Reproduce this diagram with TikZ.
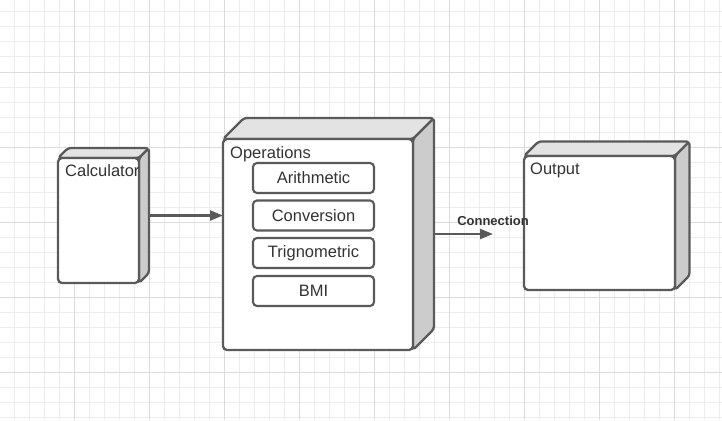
\documentclass[tikz,border=0pt]{standalone}
\usepackage{fontspec}
\setmainfont{Liberation Sans}
\usetikzlibrary{arrows.meta,calc}
\definecolor{edge}{HTML}{5A5A5A}
\definecolor{txt}{HTML}{333333}
\definecolor{topf}{HTML}{E3E3E3}
\definecolor{sidef}{HTML}{CCCCCC}
\definecolor{gminor}{HTML}{EDEDED}
\definecolor{gmajor}{HTML}{DCDCDC}
\pgfdeclarelayer{gridlayer}
\pgfdeclarelayer{facelayer}
\pgfsetlayers{gridlayer,facelayer,main}
\newcommand\cubefaces[2]{%
  \begin{pgfonlayer}{facelayer}
  \draw[face, fill=topf] (#1.north west) -- ++(#2,-#2) -- ($(#1.north east)+(#2,-#2)$) -- (#1.north east) -- cycle;
  \draw[face, fill=sidef] (#1.north east) -- ++(#2,-#2) -- ($(#1.south east)+(#2,-#2)$) -- (#1.south east) -- cycle;
  \end{pgfonlayer}}
\begin{document}
\begin{tikzpicture}[x=1pt,y=-1pt,
  front/.style={draw=edge, line width=2.3pt, rounded corners=4pt, fill=white, outer sep=0pt, inner sep=0pt},
  face/.style={draw=edge, line width=2.3pt, rounded corners=3pt, line join=round},
  lbl/.style={text=txt, inner sep=0pt, anchor=base west, font=\fontsize{16.5}{19}\selectfont},
  opitem/.style={draw=edge, line width=2.1pt, rounded corners=4pt, fill=white, outer sep=0pt,
    minimum width=121pt, minimum height=30pt, text=txt, font=\fontsize{16.5}{19}\selectfont},
  conn/.style={draw=edge, line width=2.2pt, -{Triangle[length=13pt,width=10pt]}},
  connlbl/.style={text=txt, inner sep=0pt, font=\bfseries\fontsize{13}{15}\selectfont}]
\useasboundingbox (0,0) rectangle (722,420);
\begin{pgfonlayer}{gridlayer}
\fill[white] (0,0) rectangle (722,420);
\foreach \x in {14.5,29.5,...,720} \draw[gminor, line width=1pt] (\x,0) -- (\x,420);
\foreach \y in {12,27,...,420} \draw[gminor, line width=1pt] (0,\y) -- (722,\y);
\foreach \x in {74.5,149.5,...,720} \draw[gmajor, line width=1pt] (\x,0) -- (\x,420);
\foreach \y in {72,147,...,420} \draw[gmajor, line width=1pt] (0,\y) -- (722,\y);
\end{pgfonlayer}

% Calculator
\node[front, minimum width=81pt, minimum height=125pt] (calc) at (98.5,220.5) {};
\cubefaces{calc}{10}
\node[lbl] (calcl) at ($(calc.north west)+(7,18)$) {Calculator};

% Operations
\node[front, minimum width=190pt, minimum height=211pt] (ops) at (318,244.5) {};
\cubefaces{ops}{21}
\node[lbl] (opsl) at ($(ops.north west)+(7,19.5)$) {Operations};
\node[opitem] (arith) at (313.5,178) {Arithmetic};
\node[opitem] (conv) at (313.5,215.5) {Conversion};
\node[opitem] (trig) at (313.5,253) {Trignometric};
\node[opitem] (bmi) at (313.5,291) {BMI};

% Output
\node[front, minimum width=151pt, minimum height=134pt] (out) at (599.5,223) {};
\cubefaces{out}{14.5}
\node[lbl] (outl) at ($(out.north west)+(6,18.5)$) {Output};

% connectors
\coordinate (a1) at ($(calc.east)+(10,-5)$);
\draw[conn] (a1) -- (a1 -| ops.west);
\coordinate (a2) at ($(ops.east)+(21,-10.5)$);
\coordinate (a2end) at ($(a2)+(59,0)$);
\draw[conn] (a2) -- (a2end);
\node[connlbl, anchor=base] (connl) at ($(a2end)+(0,-8.3)$) {Connection};
\end{tikzpicture}
\end{document}
